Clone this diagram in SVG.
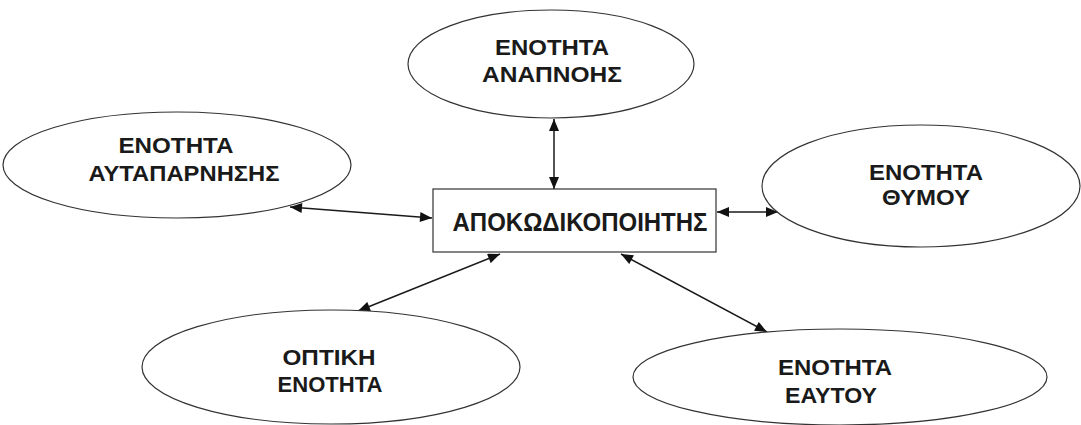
<svg xmlns="http://www.w3.org/2000/svg" width="1081" height="425" viewBox="0 0 1081 425">
  <defs>
    <style>
      .shape { fill: #ffffff; stroke: #333333; stroke-width: 1.2; }
      .label { font-family: "Liberation Sans", Arial, sans-serif; font-weight: bold; font-size: 22.5px; fill: #1a1a1a; text-anchor: middle; }
      .big { font-size: 26px; }
      .link { stroke: #1a1a1a; stroke-width: 1.5; fill: none; marker-start: url(#head); marker-end: url(#head); }
    </style>
    <marker id="head" viewBox="0 0 12 10" refX="12" refY="5" markerWidth="13" markerHeight="10" markerUnits="userSpaceOnUse" orient="auto-start-reverse">
      <path d="M0,0 L12,5 L0,10 Z" fill="#111111"/>
    </marker>
  </defs>
  <rect width="1081" height="425" fill="#ffffff"/>

  <!-- connectors between the decoder and each unit -->
  <g id="connectors">
    <line class="link" x1="554" y1="119" x2="554" y2="189"/>
    <line class="link" x1="290" y1="207" x2="432" y2="218"/>
    <line class="link" x1="717" y1="212" x2="778" y2="212"/>
    <line class="link" x1="500" y1="254" x2="358" y2="311"/>
    <line class="link" x1="621" y1="254" x2="767" y2="332"/>
  </g>

  <g id="decoder">
    <rect class="shape" x="433" y="189" width="283" height="63"/>
    <text class="label big" x="580" y="231" textLength="255" lengthAdjust="spacingAndGlyphs">ΑΠΟΚΩΔΙΚΟΠΟΙΗΤΗΣ</text>
  </g>

  <g id="breathing">
    <ellipse class="shape" cx="551" cy="64" rx="143" ry="54"/>
    <text class="label" x="552" y="55" textLength="114" lengthAdjust="spacingAndGlyphs">ΕΝΟΤΗΤΑ</text>
    <text class="label" x="552" y="82" textLength="140" lengthAdjust="spacingAndGlyphs">ΑΝΑΠΝΟΗΣ</text>
  </g>

  <g id="self-denial">
    <ellipse class="shape" cx="177" cy="165" rx="174" ry="53"/>
    <text class="label" x="176" y="153" textLength="115" lengthAdjust="spacingAndGlyphs">ΕΝΟΤΗΤΑ</text>
    <text class="label" x="184" y="181" textLength="191" lengthAdjust="spacingAndGlyphs">ΑΥΤΑΠΑΡΝΗΣΗΣ</text>
  </g>

  <g id="anger">
    <ellipse class="shape" cx="921" cy="186" rx="159" ry="61"/>
    <text class="label" x="926" y="180" textLength="114" lengthAdjust="spacingAndGlyphs">ΕΝΟΤΗΤΑ</text>
    <text class="label" x="926" y="205" textLength="88" lengthAdjust="spacingAndGlyphs">ΘΥΜΟΥ</text>
  </g>

  <g id="visual">
    <ellipse class="shape" cx="331" cy="367" rx="189" ry="57"/>
    <text class="label" x="329" y="365" textLength="93" lengthAdjust="spacingAndGlyphs">ΟΠΤΙΚΗ</text>
    <text class="label" x="330" y="392" textLength="105" lengthAdjust="spacingAndGlyphs">ΕΝΟΤΗΤΑ</text>
  </g>

  <g id="self">
    <ellipse class="shape" cx="840" cy="377" rx="207" ry="48"/>
    <text class="label" x="835" y="375" textLength="114" lengthAdjust="spacingAndGlyphs">ΕΝΟΤΗΤΑ</text>
    <text class="label" x="831" y="403" textLength="92" lengthAdjust="spacingAndGlyphs">ΕΑΥΤΟΥ</text>
  </g>
</svg>
